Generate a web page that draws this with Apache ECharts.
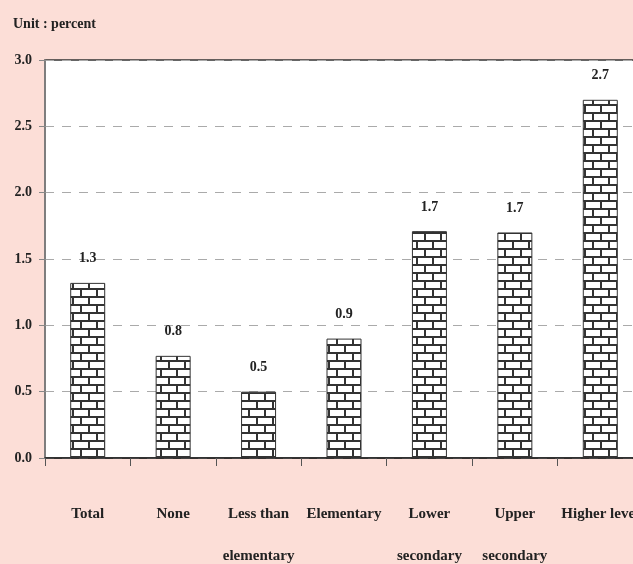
<!DOCTYPE html>
<html>
<head>
<meta charset="utf-8">
<script src="https://cdn.jsdelivr.net/npm/echarts@6/dist/echarts.min.js"></script>
<style>
  html, body { margin: 0; padding: 0; background: #fcded7; }
  #chart { width: 633px; height: 564px; }
</style>
</head>
<body>
<div id="chart"></div>
<script>
// data
var categories = ['Total', 'None', 'Less than\nelementary', 'Elementary', 'Lower\nsecondary', 'Upper\nsecondary', 'Higher level'];
var values = [1.32, 0.77, 0.5, 0.9, 1.71, 1.7, 2.7];
var valueLabels = ['1.3', '0.8', '0.5', '0.9', '1.7', '1.7', '2.7'];
var yTicks = ['0.0', '0.5', '1.0', '1.5', '2.0', '2.5', '3.0'];

//brick pattern for the bars
function brickPattern() {
    var c = document.createElement('canvas');
    c.width = 16;
    c.height = 16;
    var ctx = c.getContext('2d');
    ctx.fillStyle = '#ffffff';
    ctx.fillRect(0, 0, 16, 16);
    ctx.fillStyle = '#333333';
    ctx.fillRect(0, 0, 16, 2);   // mortar rows
    ctx.fillRect(0, 8, 16, 2);
    ctx.fillRect(0, 0, 2, 8);    // joints row 1
    ctx.fillRect(8, 8, 2, 8);    // joints row 2
    return c;
}

var myChart = echarts.init(document.getElementById('chart'));
var font = '"Liberation Serif", "Times New Roman", serif';

var option = {
    backgroundColor: '#fcded7',
    animation: false,
    graphic: [{
        type: 'text',
        left: 13,
        top: 17,
        style: {
            text: 'Unit : percent',
            font: 'bold 14px ' + font,
            fill: '#222'
        }
    }],
    grid: {
        left: 45,
        top: 60,
        right: -10,
        bottom: 106,
        outerBoundsMode: 'none',
        containLabel: false,
        show: true,
        backgroundColor: '#ffffff',
        borderColor: '#333',
        borderWidth: 1.5
    },
    xAxis: {
        type: 'category',
        data: categories,
        axisLine: { lineStyle: { color: '#222', width: 1.5 } },
        axisTick: { show: true, length: 8, lineStyle: { color: '#555' } },
        axisLabel: {
            margin: 35,
            color: '#222',
            fontFamily: font,
            fontWeight: 'bold',
            fontSize: 15,
            lineHeight: 42,
            interval: 0
        }
    },
    yAxis: {
        type: 'value',
        min: 0,
        max: 3,
        interval: 0.5,
        axisLine: { show: true, lineStyle: { color: '#888', width: 1.5 } },
        axisTick: { show: true, length: 6, lineStyle: { color: '#888' } },
        splitLine: { lineStyle: { color: '#aaa', type: [9, 8] } },
        axisLabel: {
            margin: 13,
            color: '#222',
            fontFamily: font,
            fontWeight: 'bold',
            fontSize: 14,
            formatter: function (v) {
                return yTicks[Math.round(v * 2)];
            }
        }
    },
    series: [{
        type: 'bar',
        data: values,
        barWidth: 35,
        itemStyle: {
            color: { image: brickPattern(), repeat: 'repeat' },
            borderColor: '#333',
            borderWidth: 1
        },
        label: {
            show: true,
            position: 'top',
            distance: 17,
            color: '#222',
            fontFamily: font,
            fontWeight: 'bold',
            fontSize: 14,
            formatter: function (p) {
                return valueLabels[p.dataIndex];
            }
        }
    }]
};
myChart.setOption(option);
</script>
</body>
</html>
